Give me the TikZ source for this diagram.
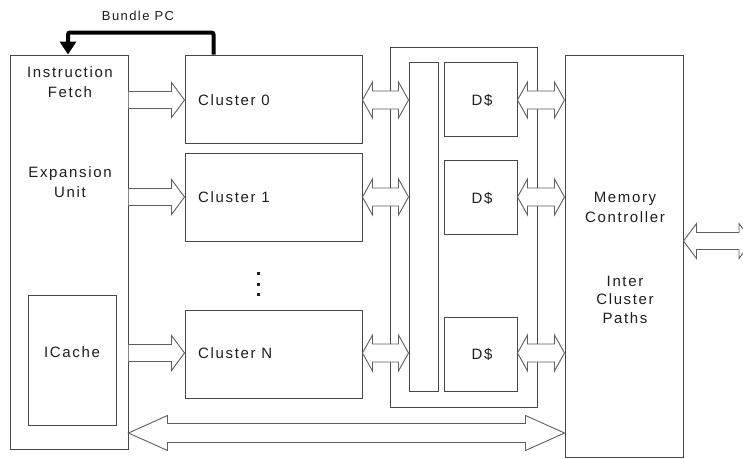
\documentclass[tikz,border=0pt]{standalone}
\usepackage{fontspec}
\setmainfont{Liberation Sans}[LetterSpace=11]
\usetikzlibrary{calc,arrows.meta}
\definecolor{boxc}{RGB}{70,70,70}
\definecolor{arrc}{RGB}{95,95,95}
\definecolor{txtc}{RGB}{30,30,30}
\tikzset{
  box/.style={draw=boxc, line width=1pt, inner sep=0pt, fill=white},
  lbl/.style={text=txtc, font=\fontsize{15}{20}\selectfont, inner sep=0pt, align=center},
  fat/.style={draw=arrc, line width=0.9pt, fill=white, line join=miter},
}
\newcommand\fatdbl[5]{%
  \draw[fat] let \p1=(#1), \p2=(#2) in
    (\x1,\y1) -- (\x1+#5,\y1+#4) -- (\x1+#5,\y1+#3) -- (\x2-#5,\y1+#3) -- (\x2-#5,\y1+#4)
    -- (\x2,\y1) -- (\x2-#5,\y1-#4) -- (\x2-#5,\y1-#3) -- (\x1+#5,\y1-#3) -- (\x1+#5,\y1-#4) -- cycle;}
\newcommand\fatsgl[5]{%
  \draw[fat] let \p1=(#1), \p2=(#2) in
    (\x1,\y1+#3) -- (\x2-#5,\y1+#3) -- (\x2-#5,\y1+#4)
    -- (\x2,\y1) -- (\x2-#5,\y1-#4) -- (\x2-#5,\y1-#3) -- (\x1,\y1-#3);}
\begin{document}
\begin{tikzpicture}[x=1pt,y=-1pt]
\useasboundingbox (0,0) rectangle (743,458);
\clip (0,0) rectangle (743,458);
% row coordinates
\coordinate (ya) at (0,100);
\coordinate (yb) at (0,197);
\coordinate (yc) at (0,353);
\coordinate (yd) at (0,433);
\coordinate (ye) at (0,241);
% boxes
\node[box, minimum width=118pt, minimum height=394pt] (ifu) at (69,252) {};
\node[box, minimum width=88pt, minimum height=130pt] (icache) at (72,360) {};
\node[box, minimum width=177pt, minimum height=88pt] (c0) at (273.5,99) {};
\node[box, minimum width=177pt, minimum height=88pt] (c1) at (273.5,197) {};
\node[box, minimum width=177pt, minimum height=88pt] (cN) at (273.5,354) {};
\node[box, minimum width=147pt, minimum height=360pt] (outer) at (463.5,227) {};
\node[box, minimum width=29pt, minimum height=329pt] (bus) at (423.5,226.5) {};
\node[box, minimum width=73pt, minimum height=74pt] (d0) at (480.5,99) {};
\node[box, minimum width=73pt, minimum height=74pt] (d1) at (480.5,197) {};
\node[box, minimum width=73pt, minimum height=74pt] (d2) at (480.5,354) {};
\node[box, minimum width=118pt, minimum height=402pt] (mem) at (624,256) {};
\coordinate (offR) at (752,241);
% labels
\node[lbl] (tif) at (70,82) {Instruction\\Fetch};
\node[lbl] (tex) at (70,182) {Expansion\\Unit};
\node[lbl] (tic) at (72,352) {ICache};
\node[lbl, anchor=west] (tc0) at (198,100) {Cluster 0};
\node[lbl, anchor=west] (tc1) at (198,197) {Cluster 1};
\node[lbl, anchor=west] (tcN) at (198,353) {Cluster N};
\node[lbl] (td0) at (482,100) {D\$};
\node[lbl] (td1) at (482,198) {D\$};
\node[lbl] (td2) at (482,354) {D\$};
\node[lbl] (tmc) at (625,207.5) {Memory\\Controller};
\node[lbl, font=\fontsize{15}{18.5}\selectfont] (tip) at (625,299.5) {Inter\\Cluster\\Paths};
\node[lbl, font=\fontsize{13}{16}\selectfont] (tbpc) at (138,16) {Bundle PC};
% vertical dots
\foreach \yy in {273,284,294} \fill[txtc] (256.5,\yy-1.5) rectangle ++(3,3);
% Bundle PC arrow
\coordinate (bpcS) at ([xshift=29pt]c0.north west);
\coordinate (bpcE) at ([xshift=-1pt]ifu.north);
\draw[line width=4pt, rounded corners=2pt, -{Triangle[width=16pt,length=13pt]}]
  (bpcS) -- ++(0,-22) -| (bpcE);
% fat arrows: fetch -> clusters
\fatsgl{ifu.east |- ya}{c0.west |- ya}{8.5pt}{17.5pt}{13pt}
\fatsgl{ifu.east |- yb}{c1.west |- yb}{8.5pt}{17.5pt}{13pt}
\fatsgl{ifu.east |- yc}{cN.west |- yc}{8.5pt}{17.5pt}{13pt}
% clusters <-> bus
\fatdbl{c0.east |- ya}{bus.west |- ya}{9pt}{18pt}{10pt}
\fatdbl{c1.east |- yb}{bus.west |- yb}{9pt}{18pt}{10pt}
\fatdbl{cN.east |- yc}{bus.west |- yc}{9pt}{18pt}{10pt}
% D$ <-> memory
\fatdbl{d0.east |- ya}{mem.west |- ya}{9pt}{18pt}{10pt}
\fatdbl{d1.east |- yb}{mem.west |- yb}{9pt}{18pt}{10pt}
\fatdbl{d2.east |- yc}{mem.west |- yc}{9pt}{18pt}{10pt}
% bottom long arrow
\fatdbl{ifu.east |- yd}{mem.west |- yd}{9.5pt}{17.5pt}{39pt}
% right external arrow
\fatdbl{mem.east |- ye}{offR}{8.5pt}{17.5pt}{13pt}
\end{tikzpicture}
\end{document}
